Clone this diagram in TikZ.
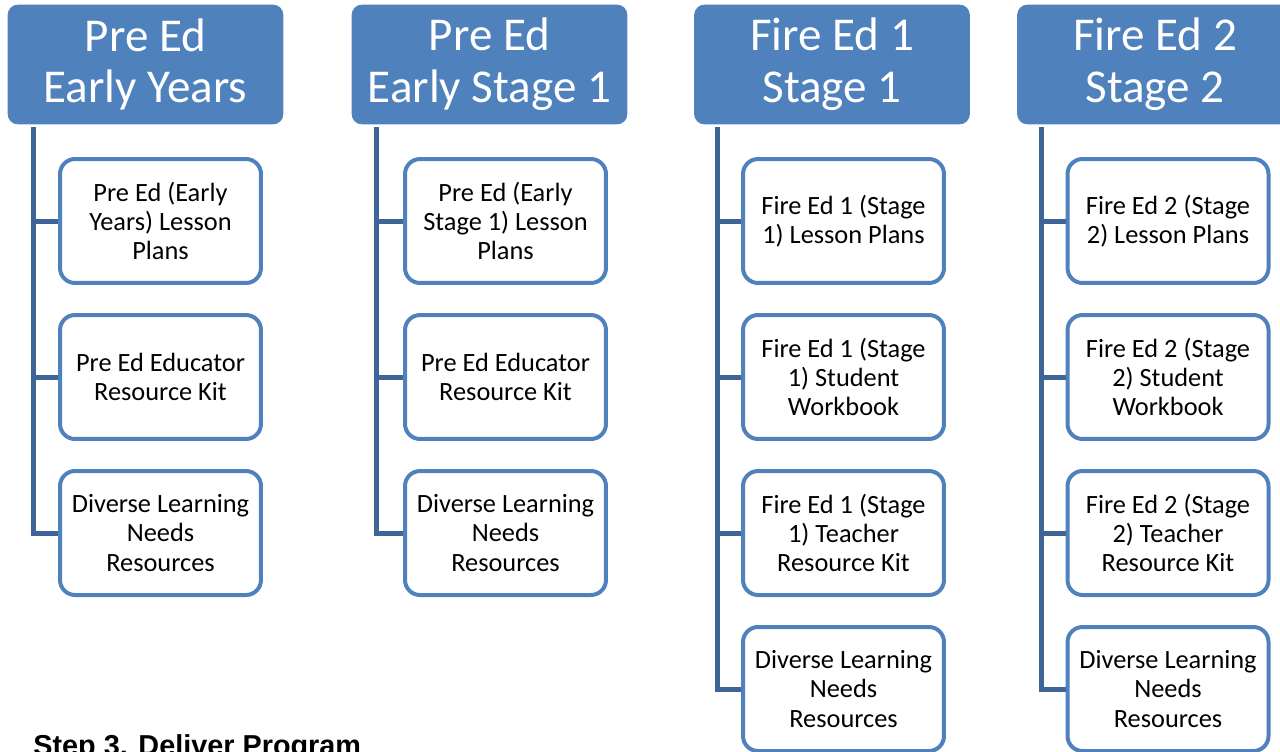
\documentclass[tikz,border=0pt]{standalone}
\usepackage{fontspec}
\setmainfont{Carlito}
\newfontfamily\arialfont{Liberation Sans}

\definecolor{hdrblue}{HTML}{4F81BD}
\definecolor{linkblue}{HTML}{3F6598}

\tikzset{
  hdr/.style={rectangle, rounded corners=0.2cm, fill=hdrblue, draw=hdrblue,
    text=white, align=center, minimum width=5.5cm, minimum height=2.38cm,
    inner sep=0pt, font=\fontsize{26.8}{29.5}\selectfont},
  item/.style={rectangle, rounded corners=0.3cm, draw=hdrblue, line width=0.08cm,
    fill=white, align=center, minimum width=4.02cm, minimum height=2.48cm,
    inner sep=0pt, font=\fontsize{15}{16.6}\selectfont},
  link/.style={draw=linkblue, line width=0.1cm}
}

\begin{document}
\begin{tikzpicture}[x=0.02cm, y=-0.02cm]
\useasboundingbox (0,0) rectangle (1280,751);

% headers
\node[hdr] (H1) at (145.5,64.5) {Pre Ed\\Early Years};
\node[hdr] (H2) at (489.5,64.5) {Pre Ed\\Early Stage 1};
\node[hdr] (H3) at (832,64.5) {Fire Ed 1\\Stage 1};
\node[hdr] (H4) at (1155,64.5) {Fire Ed 2\\Stage 2};

% Pre Ed Early Years
\node[item] (C11) at (160.5,221) {Pre Ed (Early\\Years) Lesson\\Plans};
\node[item] (C12) at (160.5,377) {Pre Ed Educator\\Resource Kit};
\node[item] (C13) at (160.5,533) {Diverse Learning\\Needs\\Resources};

% Pre Ed Early Stage 1
\node[item] (C21) at (505.5,221) {Pre Ed (Early\\Stage 1) Lesson\\Plans};
\node[item] (C22) at (505.5,377) {Pre Ed Educator\\Resource Kit};
\node[item] (C23) at (505.5,533) {Diverse Learning\\Needs\\Resources};

% Fire Ed 1
\node[item] (C31) at (843.5,221) {Fire Ed 1 (Stage\\1) Lesson Plans};
\node[item] (C32) at (843.5,377) {Fire Ed 1 (Stage\\1) Student\\Workbook};
\node[item] (C33) at (843.5,533) {Fire Ed 1 (Stage\\1) Teacher\\Resource Kit};
\node[item] (C34) at (843.5,689) {Diverse Learning\\Needs\\Resources};

% Fire Ed 2
\node[item] (C41) at (1168,221) {Fire Ed 2 (Stage\\2) Lesson Plans};
\node[item] (C42) at (1168,377) {Fire Ed 2 (Stage\\2) Student\\Workbook};
\node[item] (C43) at (1168,533) {Fire Ed 2 (Stage\\2) Teacher\\Resource Kit};
\node[item] (C44) at (1168,689) {Diverse Learning\\Needs\\Resources};

\draw[link] ([xshift=0.52cm,yshift=-0.06cm]H1.south west) |- (C11.west);
\draw[link] ([xshift=0.52cm,yshift=-0.06cm]H1.south west) |- (C12.west);
\draw[link] ([xshift=0.52cm,yshift=-0.06cm]H1.south west) |- (C13.west);

\draw[link] ([xshift=0.5cm,yshift=-0.06cm]H2.south west) |- (C21.west);
\draw[link] ([xshift=0.5cm,yshift=-0.06cm]H2.south west) |- (C22.west);
\draw[link] ([xshift=0.5cm,yshift=-0.06cm]H2.south west) |- (C23.west);

\draw[link] ([xshift=0.46cm,yshift=-0.06cm]H3.south west) |- (C31.west);
\draw[link] ([xshift=0.46cm,yshift=-0.06cm]H3.south west) |- (C32.west);
\draw[link] ([xshift=0.46cm,yshift=-0.06cm]H3.south west) |- (C33.west);
\draw[link] ([xshift=0.46cm,yshift=-0.06cm]H3.south west) |- (C34.west);

\draw[link] ([xshift=0.48cm,yshift=-0.06cm]H4.south west) |- (C41.west);
\draw[link] ([xshift=0.48cm,yshift=-0.06cm]H4.south west) |- (C42.west);
\draw[link] ([xshift=0.48cm,yshift=-0.06cm]H4.south west) |- (C43.west);
\draw[link] ([xshift=0.48cm,yshift=-0.06cm]H4.south west) |- (C44.west);

\node[anchor=base west, inner sep=0pt, font=\arialfont\bfseries\fontsize{16.4}{19}\selectfont]
  (S3) at (33,755) {Step 3. Deliver Program};
\end{tikzpicture}
\end{document}
